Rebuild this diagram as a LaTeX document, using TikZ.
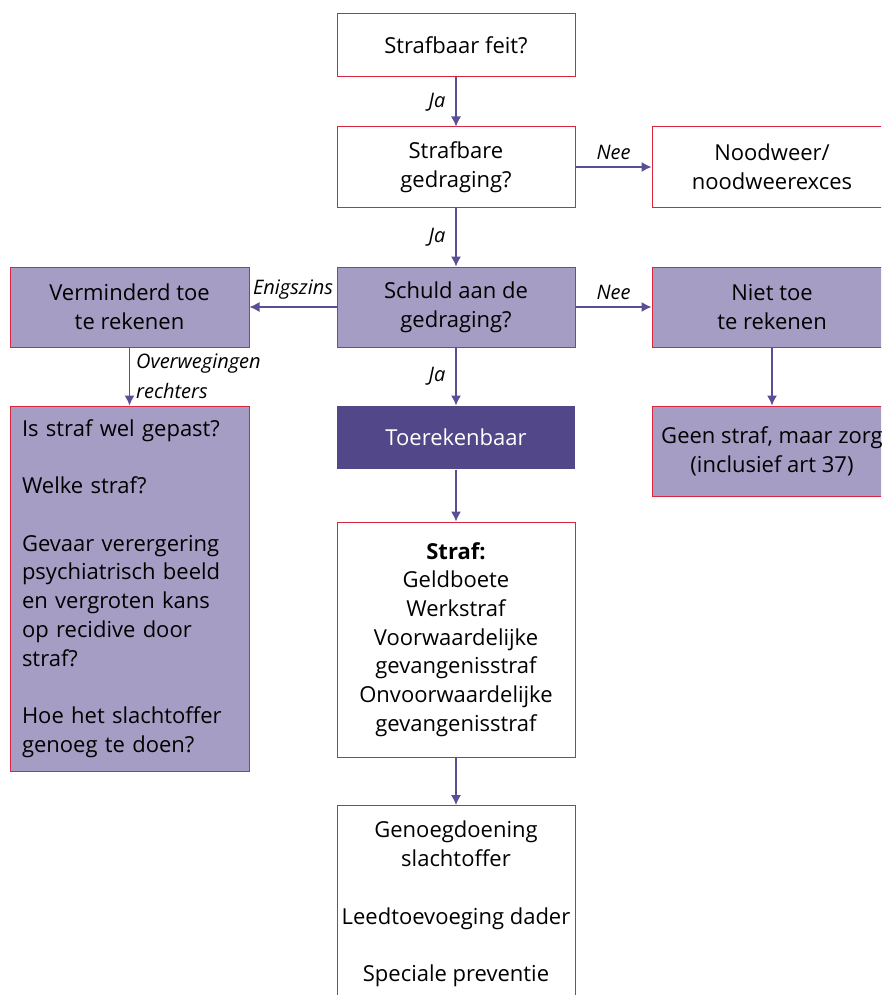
\documentclass[tikz,border=0pt]{standalone}
\usepackage{fontspec}
\setmainfont{Open Sans}
\usetikzlibrary{arrows.meta}
\definecolor{boxred}{HTML}{D7263D}
\definecolor{lav}{HTML}{A69DC4}
\definecolor{darkpurple}{HTML}{524788}
\definecolor{arrowc}{HTML}{5A4E94}
\tikzset{
  box/.style={draw=boxred, line width=1pt, fill=white, minimum width=238pt, align=center,
    font=\fontsize{22}{28.7}\selectfont, inner sep=0pt},
  lavbox/.style={box, fill=lav},
  darkbox/.style={box, draw=none, fill=darkpurple, text=white},
  conn/.style={draw=arrowc, line width=1.3pt, -{Latex[length=10pt,width=10pt]}},
  lbl/.style={font=\fontsize{20}{30}\selectfont\itshape, text=black, inner sep=0pt}
}
\begin{document}
\begin{tikzpicture}[x=1pt,y=-1pt]
\useasboundingbox (0,0) rectangle (881,995);
\clip (0,0) rectangle (881,995);
\node[box, minimum height=63pt] (feit) at (456,45.5) {Strafbaar feit?};
\node[box, minimum height=80pt] (gedr) at (456,167) {Strafbare\\gedraging?};
\node[box, minimum height=80pt, minimum width=240pt] (nood) at (772,167) {Noodweer/\\noodweerexces};
\node[lavbox, minimum height=80pt] (schuld) at (456,307) {Schuld aan de\\gedraging?};
\node[lavbox, minimum height=80pt, minimum width=239pt] (verm) at (129.5,307) {Verminderd toe\\te rekenen};
\node[lavbox, minimum height=80pt, minimum width=240pt] (niet) at (772,307) {Niet toe\\te rekenen};
\node[darkbox, minimum height=63pt] (toe) at (456,437.5) {Toerekenbaar};
\node[lavbox, minimum height=90pt, minimum width=240pt] (geen) at (772,451) {Geen straf, maar zorg\\(inclusief art 37)};
\node[lavbox, minimum height=365pt, minimum width=239pt, align=left, text width=215pt, inner xsep=12pt] (overw) at (129.5,588.5)
 {Is straf wel gepast?\\[28.7pt]Welke straf?\\[28.7pt]Gevaar verergering\\psychiatrisch beeld\\en vergroten kans\\op recidive door\\straf?\\[28.7pt]Hoe het slachtoffer\\genoeg te doen?};
\node[box, minimum height=235pt] (straf) at (456,639.5) {\textbf{Straf:}\\Geldboete\\Werkstraf\\Voorwaardelijke\\gevangenisstraf\\Onvoorwaardelijke\\gevangenisstraf};
\node[box, minimum height=197pt, anchor=north] (doel) at (456,805) {Genoegdoening\\slachtoffer\\[28.7pt]Leedtoevoeging dader\\[28.7pt]Speciale preventie};

\draw[conn] (feit) -- node[lbl, midway, left=10pt] {Ja} (gedr);
\draw[conn] (gedr) -- node[lbl, midway, above=7pt] {Nee} (nood);
\draw[conn] (gedr) -- node[lbl, midway, left=10pt] {Ja} (schuld);
\draw[conn] (schuld) -- node[lbl, midway, above=7pt] {Enigszins} (verm);
\draw[conn] (schuld) -- node[lbl, midway, above=7pt] {Nee} (niet);
\draw[conn] (schuld) -- node[lbl, midway, left=10pt] {Ja} (toe);
\draw[conn] (verm.south -| overw.north) -- node[lbl, midway, right=6pt, align=left] {Overwegingen\\rechters} (overw.north);
\draw[conn] (niet) -- (geen);
\draw[conn] (toe) -- (straf);
\draw[conn] (straf) -- (doel);
\end{tikzpicture}
\end{document}
